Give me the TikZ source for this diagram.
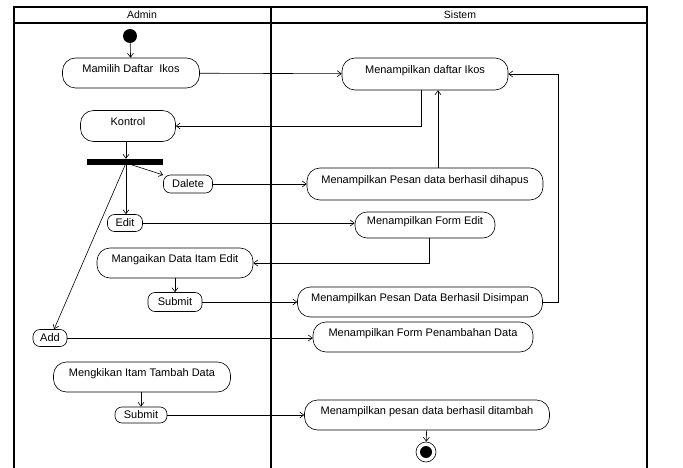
\documentclass[tikz,border=0pt]{standalone}
\usepackage{fontspec}
\setmainfont{Liberation Sans}
\usetikzlibrary{arrows.meta}
\begin{document}
\begin{tikzpicture}[x=1pt,y=-1pt,
  act/.style={draw,line width=0.6pt,rounded corners=7pt,inner sep=0pt,font=\fontsize{11}{12}\selectfont},
  tall/.style={act,minimum height=30pt,rounded corners=13pt,text height=8pt,text depth=9pt},
  arr/.style={line width=0.6pt,-{Straight Barb[length=4pt,width=6pt]}},
  ln/.style={line width=0.6pt},
  lane/.style={line width=1.3pt},
  hdr/.style={font=\fontsize{10.5}{12}\selectfont}]
\useasboundingbox (0,0) rectangle (683,468);
% swimlanes
\draw[lane] (14,468) -- (14,7) -- (647,7) -- (647,468);
\draw[lane] (14,23) -- (647,23);
\draw[lane] (271,7) -- (271,468);
\node[hdr] (hadmin) at (142,15) {Admin};
\node[hdr] (hsistem) at (460,15) {Sistem};
% Admin lane
\node[circle,fill,inner sep=0pt,minimum size=14pt] (start) at (130,36) {};
\node[tall,minimum width=137pt] (mamilih) at (131,73) {Mamilih Daftar\ \ Ikos};
\node[tall,minimum width=95pt,minimum height=31pt] (kontrol) at (128,126) {Kontrol};
\node[fill,inner sep=0pt,minimum width=76pt,minimum height=6pt] (fork) at (125,162) {};
\coordinate (fo) at (126,163);
\node[act,minimum width=49pt,minimum height=18pt] (dalete) at (188,184) {Dalete};
\node[act,minimum width=35pt,minimum height=17pt] (edit) at (125,223) {Edit};
\node[tall,minimum width=156pt] (mangaikan) at (175,263) {Mangaikan Data Itam Edit};
\node[act,minimum width=54pt,minimum height=19pt] (submit1) at (175,302) {Submit};
\node[act,minimum width=34pt,minimum height=17pt] (add) at (50,338) {Add};
\node[tall,minimum width=177pt] (mengkikan) at (142,377) {Mengkikan Itam Tambah Data};
\node[act,minimum width=52pt,minimum height=16pt] (submit2) at (141,415) {Submit};
% Sistem lane
\node[tall,minimum width=166pt,minimum height=32pt] (daftar) at (425,74) {Menampilkan daftar Ikos};
\node[tall,minimum width=236pt,minimum height=32pt] (hapus) at (425,184) {Menampilkan Pesan data berhasil dihapus};
\node[tall,minimum width=140pt,minimum height=26pt,rounded corners=12pt] (formedit) at (425,225) {Menampilkan Form Edit};
\node[tall,minimum width=245pt] (simpan) at (420,302) {Menampilkan Pesan Data Berhasil Disimpan};
\node[tall,minimum width=220pt] (penambahan) at (423,337) {Menampilkan Form Penambahan Data};
\node[tall,minimum width=245pt] (tambah) at (427,415) {Menampilkan pesan data berhasil ditambah};
\node[circle,draw,line width=0.6pt,inner sep=0pt,minimum size=20pt] (final) at (426,452) {};
\node[circle,fill,inner sep=0pt,minimum size=12pt] (finalin) at (426,452) {};
% routing x-positions
\coordinate (c2) at (421,0);
\coordinate (c3) at (438,0);
\coordinate (c4) at (558,200);
\coordinate (c7) at (429,0);
% connectors
\draw[arr] (start) -- (mamilih);
\draw[arr] (mamilih) -- (daftar);
\draw[arr] (daftar.south -| c2) |- (kontrol.east);
\draw[arr] (kontrol.south -| fo) -- (fork.north -| fo);
\draw[arr] (fo) -- (dalete.160);
\draw[arr] (fo) -- (edit.north -| fo);
\draw[arr] (fo) -- (add.65);
\draw[arr] (dalete) -- (hapus);
\draw[arr] (hapus.north -| c3) -- (daftar.south -| c3);
\draw[arr] (edit) -- (formedit.west |- edit);
\draw[arr] (formedit.south -| c7) |- (mangaikan.east);
\draw[arr] (mangaikan) -- (submit1);
\draw[arr] (submit1) -- (simpan);
\draw[ln] (simpan.east) -| (c4);
\draw[arr] (c4) |- (daftar.east);
\draw[arr] (add) -- (penambahan.west |- add);
\draw[arr] (mengkikan.south -| submit2) -- (submit2);
\draw[arr] (submit2) -- (tambah.west |- submit2);
\draw[arr] (tambah) -- (final);
\end{tikzpicture}
\end{document}
